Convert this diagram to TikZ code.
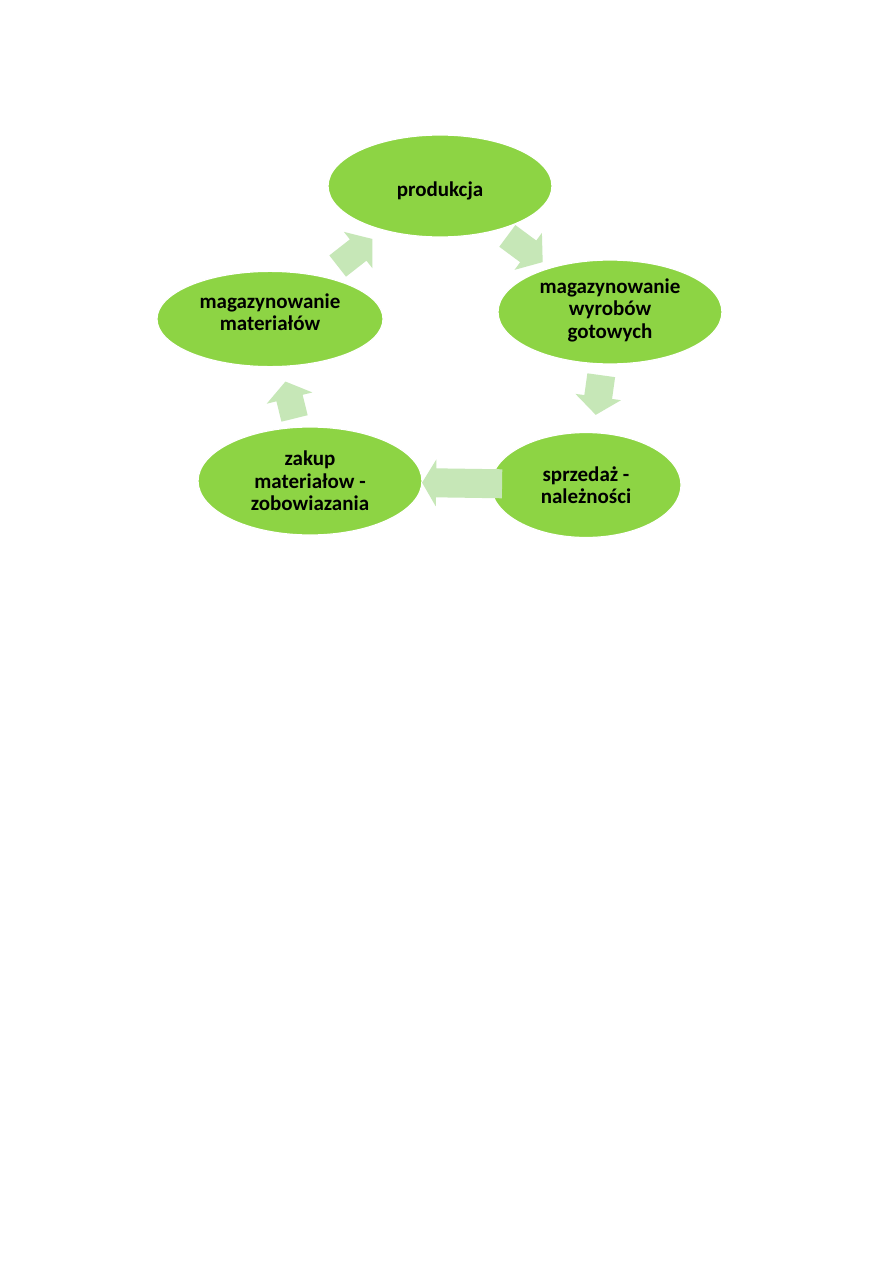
\documentclass[tikz,border=0pt]{standalone}
\usepackage{fontspec}
\setmainfont{Carlito}
\usetikzlibrary{shapes.geometric,calc}
\definecolor{ellgreen}{RGB}{141,212,68}
\definecolor{arrgreen}{RGB}{198,231,183}
\tikzset{
  cyc/.style={ellipse, fill=ellgreen, draw=white, line width=0.8pt, inner sep=0pt},
  lbl/.style={inner sep=0pt, align=center, font=\bfseries\fontsize{14pt}{15pt}\selectfont, text=black},
  arrowfill/.style={fill=arrgreen}
}
% from, to, ratio, length, shaft width, head width, head length (px)
\newcommand{\cyclearrow}[7]{%
  \fill[arrowfill] let \p1=($(#2)-(#1)$), \n1={atan2(\y1,\x1)}, \p2=($(#1)!#3!(#2)$) in
    [shift={(\p2)}, rotate=\n1]
    (-#4/2,-#5/2) -- (#4/2-#7,-#5/2) -- (#4/2-#7,-#6/2) -- (#4/2,0) --
    (#4/2-#7,#6/2) -- (#4/2-#7,#5/2) -- (-#4/2,#5/2) -- cycle;}
\begin{document}
\begin{tikzpicture}[x=0.66667pt,y=-0.66667pt]
\useasboundingbox (0,0) rectangle (893,1263);
\fill[white] (0,0) rectangle (893,1263);
% ellipses
\node[cyc, minimum width=149.3pt, minimum height=68pt] (prod) at (440,186) {};
\node[cyc, minimum width=150.7pt, minimum height=63.5pt] (mat) at (270,319) {};
\node[cyc, minimum width=149.3pt, minimum height=69.3pt] (wyr) at (610,312) {};
\node[cyc, minimum width=149.3pt, minimum height=72pt] (zak) at (310,481) {};
\node[cyc, minimum width=126.7pt, minimum height=70pt] (sprz) at (586,485) {};
% texts
\node[lbl] (prodt) at ($(prod)+(0,5)$) {produkcja};
\node[lbl] (matt) at ($(mat)+(0,-7)$) {magazynowanie\\materiałów};
\node[lbl] (wyrt) at ($(wyr)+(0,-2)$) {magazynowanie\\wyrobów\\gotowych};
\node[lbl] (zakt) at (zak) {zakup\\materiałow -\\zobowiazania};
\node[lbl] (sprzt) at (sprz) {sprzedaż -\\należności};
% arrows
\cyclearrow{mat}{prod}{0.5}{44}{27}{46}{18}
\cyclearrow{prod}{wyr}{0.5}{44}{27}{46}{18}
\cyclearrow{wyr}{sprz}{0.48}{40}{28}{46}{18}
\cyclearrow{sprz}{zak}{0.449}{80}{29}{47}{14}
\cyclearrow{zak}{mat}{0.5}{38}{27}{47}{17}
\end{tikzpicture}
\end{document}
